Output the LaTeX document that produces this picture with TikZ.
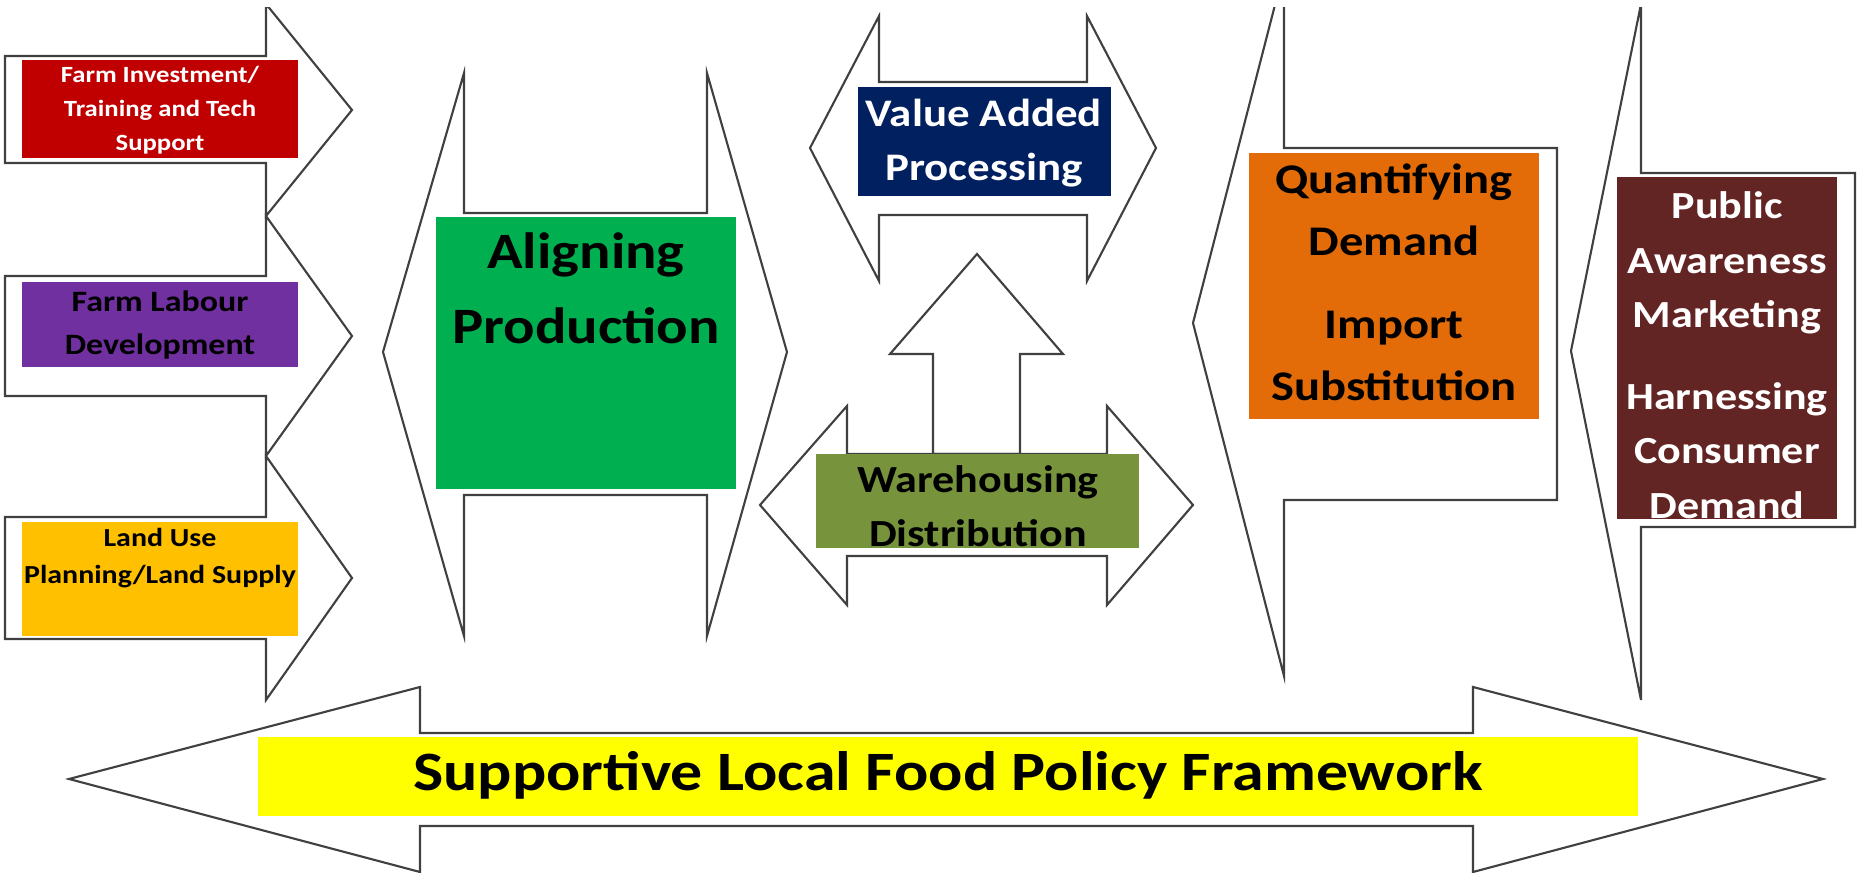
\documentclass[tikz,border=0pt]{standalone}
\usepackage{fontspec}
\setmainfont{Carlito}[FakeStretch=1.15]
\definecolor{investred}{HTML}{C00000}
\definecolor{labourpurple}{HTML}{7030A0}
\definecolor{landamber}{HTML}{FFC000}
\definecolor{aligngreen}{HTML}{00B050}
\definecolor{valuenavy}{HTML}{002060}
\definecolor{wareolive}{HTML}{77933C}
\definecolor{demandorange}{HTML}{E36C09}
\definecolor{publicbrown}{HTML}{632523}
\definecolor{policyyellow}{HTML}{FFFF00}
\begin{document}
\begin{tikzpicture}[x=0.01cm, y=-0.01cm]
            \tikzstyle{block} = [draw=black!75, line width=0.6pt, fill=white]
            \tikzstyle{boxtext} = [align=center, inner sep=0pt]
            \useasboundingbox (0,0) rectangle (1859,873);
            \clip (0,8) rectangle (1859,873);
            % input arrows on the left
            \draw[block] (5,56) -- (266,56) -- (266,4) -- (352,110) -- (266,216) -- (266,163) -- (5,163) -- cycle;
            \draw[block] (5,276) -- (266,276) -- (266,216) -- (352,336) -- (266,456) -- (266,396) -- (5,396) -- cycle;
            \draw[block] (5,517) -- (266,517) -- (266,456) -- (352,578) -- (266,700) -- (266,639) -- (5,639) -- cycle;
            % double arrows in the middle
            \draw[block] (383,352) -- (464,73) -- (464,213) -- (707,213) -- (707,73) -- (787,352) -- (707,636) -- (707,495) -- (464,495) -- (464,636) -- cycle;
            \draw[block] (810,148) -- (879,16) -- (879,82) -- (1087,82) -- (1087,16) -- (1156,148) -- (1087,281) -- (1087,215) -- (879,215) -- (879,281) -- cycle;
            \draw[block] (933,454) -- (933,354) -- (890,354) -- (977,254) -- (1063,354) -- (1020,354) -- (1020,454) -- cycle;
            \draw[block] (760,505) -- (847,406) -- (847,454) -- (1107,454) -- (1107,406) -- (1193,505) -- (1107,605) -- (1107,556) -- (847,556) -- (847,605) -- cycle;
            % demand arrows on the right
            \draw[block] (1557,148) -- (1284,148) -- (1284,-30) -- (1193,323) -- (1284,676) -- (1284,500) -- (1557,500) -- cycle;
            \draw[block] (1855,173) -- (1641,173) -- (1641,4) -- (1571,351) -- (1641,700) -- (1641,527) -- (1855,527) -- cycle;
            % policy arrow along the bottom
            \draw[block] (69,779) -- (420,687) -- (420,733) -- (1473,733) -- (1473,687) -- (1823,779) -- (1473,872) -- (1473,826) -- (420,826) -- (420,872) -- cycle;
            % coloured boxes
            \fill[investred] (22,60) rectangle (298,158);
            \fill[labourpurple] (22,282) rectangle (298,367);
            \fill[landamber] (22,522) rectangle (298,636);
            \fill[aligngreen] (436,217) rectangle (736,489);
            \fill[valuenavy] (858,87) rectangle (1111,196);
            \fill[wareolive] (816,454) rectangle (1139,548);
            \fill[demandorange] (1249,153) rectangle (1539,419);
            \fill[publicbrown] (1617,177) rectangle (1837,519);
            \fill[policyyellow] (258,737) rectangle (1638,816);
            % texts
            \node[boxtext, text=white, font={\bfseries\fontsize{6.6}{9.7}\selectfont}] (invest) at (160,110) {Farm Investment/\\Training and Tech\\Support};
            \node[boxtext, font={\bfseries\fontsize{8.4}{12.2}\selectfont}] (labour) at (160,325) {Farm Labour\\Development};
            \node[boxtext, font={\bfseries\fontsize{7.4}{10.5}\selectfont}] (land) at (160,558) {Land Use\\Planning/Land Supply};
            \node[boxtext, font={\bfseries\fontsize{14.5}{21.3}\selectfont}] (aligning) at (586,288) {Aligning\\Production};
            \node[boxtext, text=white, font={\bfseries\fontsize{11.1}{15.2}\selectfont}] (value) at (984,143) {Value Added\\Processing};
            \node[boxtext, font={\bfseries\fontsize{10.9}{15.4}\selectfont}] (warehousing) at (978,506) {Warehousing\\Distribution};
            \node[boxtext, font={\bfseries\fontsize{12}{17.6}\selectfont}] (quantifying) at (1394,282) {Quantifying\\Demand\\[6pt]Import\\Substitution};
            \node[boxtext, text=white, font={\bfseries\fontsize{10.9}{15.5}\selectfont}] (public) at (1727,355) {Public\\Awareness\\Marketing\\[7.7pt]Harnessing\\Consumer\\Demand};
            \node[boxtext, font={\bfseries\fontsize{15.8}{19}\selectfont}] (policy) at (948,775) {Supportive Local Food Policy Framework};
\end{tikzpicture}
\end{document}
